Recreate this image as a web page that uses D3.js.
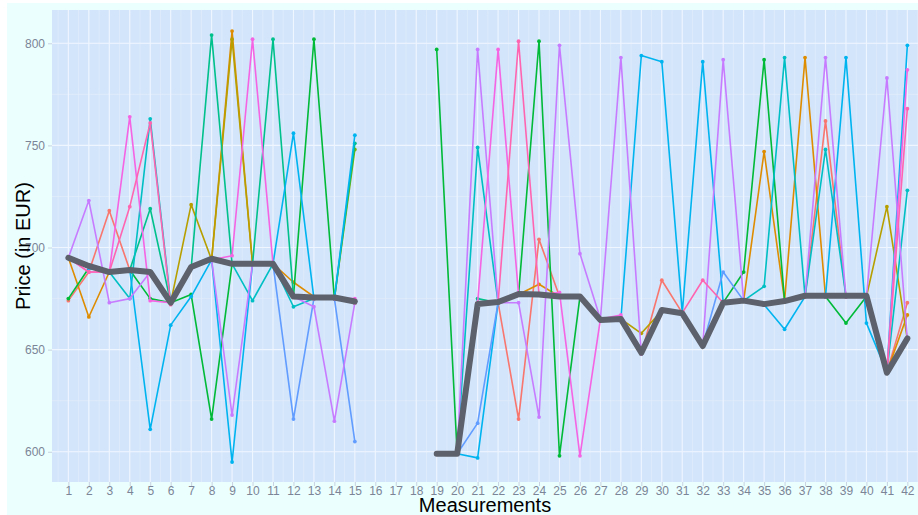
<!DOCTYPE html>
<html>
<head>
<meta charset="utf-8">
<script src="https://cdn.jsdelivr.net/npm/d3@7"></script>
<style>
  html, body { margin: 0; padding: 0; background: #ffffff; }
  svg { display: block; font-family: "Liberation Sans", Arial, sans-serif; }
</style>
</head>
<body>
<svg id="chart" width="918" height="515"></svg>
<script>
// ---- data ----
const measurements = d3.range(1, 43);            // x categories 1..42
const yTicks = [600, 650, 700, 750, 800];
const xLabel = "Measurements";
const yLabel = "Price (in EUR)";

// left block = measurements 1..15, right block = 19..42 (16..18 missing)
const s1  = [674,688,718,689,688,673,690,694,692,692,692,676,675,675,673,  599,599,673,673,616,704,676,676,665,665,648,684,668,652,673,674,672,674,676,762,676,676,639,673];
const s2  = [695,666,688,689,688,673,690,694,806,692,692,683,676,675,673,  599,599,673,673,677,682,676,676,665,665,648,669,668,652,673,674,747,674,793,676,676,676,639,667];
const s3  = [695,690,688,689,688,673,721,694,802,692,692,676,675,675,673,  599,599,673,673,677,677,676,676,665,665,658,669,668,652,673,674,672,674,676,676,676,676,720,655];
const s4  = [695,690,688,689,688,673,690,694,692,692,692,676,675,675,748,  599,599,673,673,677,677,676,676,665,665,648,669,668,652,673,674,672,674,676,676,676,676,639,655];
const s5  = [675,690,688,689,675,673,677,616,692,692,692,676,802,675,673,  797,599,673,673,677,801,598,676,665,665,648,669,668,652,673,688,792,674,676,676,663,676,639,655];
const s6  = [695,690,688,689,719,673,690,804,692,692,802,676,675,675,751,  599,599,675,673,677,677,676,676,665,665,648,669,668,652,673,674,672,674,676,676,676,676,639,655];
const s7  = [695,690,688,675,763,673,690,694,692,674,692,671,675,675,673,  599,599,749,673,677,677,676,676,665,665,648,669,668,652,673,674,681,793,676,748,676,676,639,728];
const s8  = [695,690,688,689,611,662,676,694,595,692,692,756,675,675,755,  599,599,597,673,677,677,676,676,665,665,794,791,668,791,673,674,672,660,676,676,793,663,639,799];
const s9  = [695,690,688,689,688,673,690,694,692,692,692,616,675,675,605,  599,599,614,673,677,677,676,676,665,665,648,669,668,652,688,674,672,674,676,676,676,676,639,655];
const s10 = [695,723,673,675,688,673,690,694,618,692,692,676,671,615,673,  599,599,797,673,673,617,799,697,665,793,648,669,668,652,792,674,672,674,676,793,676,676,783,655];
const s11 = [695,688,688,764,674,673,690,694,696,802,692,676,675,675,675,  599,599,673,797,677,677,678,598,665,667,650,669,668,652,673,674,672,674,676,676,676,676,639,787];
const s12 = [695,688,688,720,761,672,690,694,692,692,692,676,675,675,673,  599,599,673,673,801,677,676,676,665,665,648,669,668,684,673,674,672,674,676,676,676,676,639,768];
const median = [695,691,688,689,688,673,690.5,694.5,692,692,692,676,675.5,675.5,673.6, 599,599,672.3,673.3,677.2,677,676,676,664.5,665,648.5,669.4,667.8,651.8,673,674,672.3,673.8,676.4,676.4,676.4,676.4,638.7,655.5];

const seriesList = [s1,s2,s3,s4,s5,s6,s7,s8,s9,s10,s11,s12];
const seriesColors = ["#F8766D","#DE8C00","#B79F00","#7CAE00","#00BA38","#00C08B",
                      "#00BFC4","#00B4F0","#619CFF","#C77CFF","#F564E3","#FF64B0"];
const medianColor = "#5c616b";

// expand a 39-value series onto measurements 1..42 (16..18 missing)
function expand(vals) {
  const out = [];
  let k = 0;
  for (const m of measurements) {
    if (m >= 16 && m <= 18) out.push({x: m, y: null});
    else out.push({x: m, y: vals[k++]});
  }
  return out;
}

// ---- layout ----
const svg = d3.select("#chart");
const W = 918, H = 515;
const panel = {left: 52, right: 918, top: 10, bottom: 482};

svg.append("rect").attr("x", 7).attr("y", 3).attr("width", W - 7).attr("height", H - 3)
   .attr("fill", "#ebfffe");
svg.append("rect").attr("x", panel.left).attr("y", panel.top)
   .attr("width", panel.right - panel.left).attr("height", panel.bottom - panel.top)
   .attr("fill", "#d3e5fb");

const x = d3.scaleLinear().domain([0.2, 42.52]).range([panel.left, panel.right]);
const y = d3.scaleLinear().domain([585.2, 816.3]).range([panel.bottom, panel.top]);

const grid = svg.append("g");
// minor grid
d3.range(0.5, 42.6, 1).forEach(v => {
  grid.append("line").attr("x1", x(v)).attr("x2", x(v)).attr("y1", panel.top).attr("y2", panel.bottom)
      .attr("stroke", "#e4eefc").attr("stroke-width", 0.6);
});
[575, 625, 675, 725, 775, 825].forEach(v => {
  if (y(v) < panel.top || y(v) > panel.bottom) return;
  grid.append("line").attr("x1", panel.left).attr("x2", panel.right).attr("y1", y(v)).attr("y2", y(v))
      .attr("stroke", "#e4eefc").attr("stroke-width", 0.6);
});
// major grid
measurements.forEach(v => {
  grid.append("line").attr("x1", x(v)).attr("x2", x(v)).attr("y1", panel.top).attr("y2", panel.bottom)
      .attr("stroke", "#f0f6ff").attr("stroke-width", 1.1);
});
yTicks.forEach(v => {
  grid.append("line").attr("x1", panel.left).attr("x2", panel.right).attr("y1", y(v)).attr("y2", y(v))
      .attr("stroke", "#f0f6ff").attr("stroke-width", 1.1);
});

// axes
const tickColor = "#7b8597";
const xAxis = svg.append("g").attr("transform", `translate(0,${panel.bottom})`)
  .call(d3.axisBottom(x).tickValues(measurements).tickFormat(d3.format("d")).tickSize(4).tickPadding(0));
const yAxis = svg.append("g").attr("transform", `translate(${panel.left},0)`)
  .call(d3.axisLeft(y).tickValues(yTicks).tickFormat(d3.format("d")).tickSize(4).tickPadding(3));
[xAxis, yAxis].forEach(a => {
  a.select(".domain").remove();
  a.selectAll(".tick line").attr("stroke", "#c8d2e2");
  a.selectAll(".tick text").attr("fill", tickColor).style("font-size", "12px")
   .style("font-family", "'Liberation Sans', Arial, sans-serif");
});

// series lines
const line = d3.line().defined(d => d.y != null).x(d => x(d.x)).y(d => y(d.y));
const plot = svg.append("g");
seriesList.forEach((s, i) => {
  const data = expand(s);
  plot.append("path").datum(data).attr("d", line).attr("fill", "none")
      .attr("stroke", seriesColors[i]).attr("stroke-width", 1.6).attr("stroke-linejoin", "round");
  plot.selectAll(null).data(data.filter(d => d.y != null)).enter().append("circle")
      .attr("cx", d => x(d.x)).attr("cy", d => y(d.y)).attr("r", 1.9).attr("fill", seriesColors[i]);
});
plot.append("path").datum(expand(median)).attr("d", line).attr("fill", "none")
    .attr("stroke", medianColor).attr("stroke-width", 6).attr("stroke-linejoin", "round")
    .attr("stroke-linecap", "round");

// axis titles
svg.append("text").attr("x", (panel.left + panel.right) / 2).attr("y", 512)
   .attr("text-anchor", "middle").attr("fill", "#000").style("font-size", "20px").text(xLabel);
svg.append("text").attr("transform", `translate(30,${(panel.top + panel.bottom) / 2}) rotate(-90)`)
   .attr("text-anchor", "middle").attr("fill", "#000").style("font-size", "20px").text(yLabel);
</script>
</body>
</html>
